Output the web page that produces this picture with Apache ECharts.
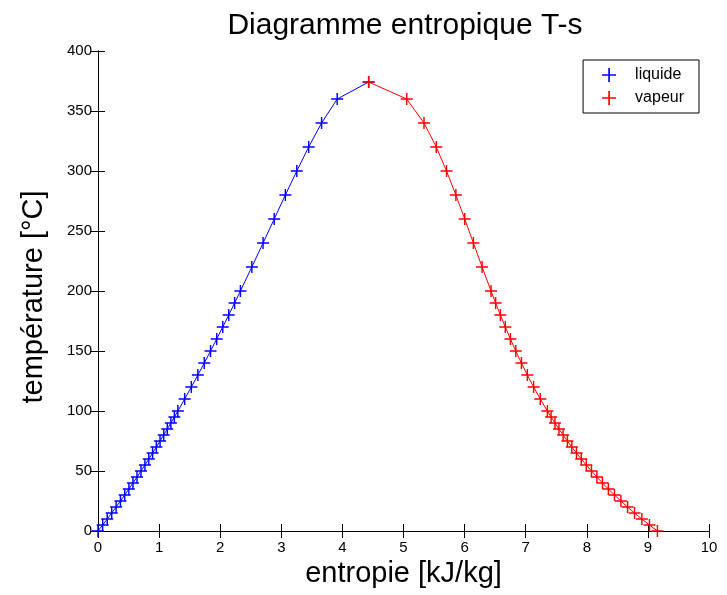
<!DOCTYPE html>
<html>
<head>
<meta charset="utf-8">
<script src="https://cdn.jsdelivr.net/npm/echarts@6/dist/echarts.min.js"></script>
<style>
  html, body { margin: 0; padding: 0; background: #fff; }
  #chart { width: 727px; height: 595px; }
</style>
</head>
<body>
<div id="chart"></div>
<script>
// températures de saturation [°C]
const temperatures = [0.01, 5, 10, 15, 20, 25, 30, 35, 40, 45, 50, 55, 60, 65, 70, 75, 80, 85, 90, 95, 100,
  110, 120, 130, 140, 150, 160, 170, 180, 190, 200, 220, 240, 260, 280, 300, 320, 340, 360, 374.14];
// entropie liquide saturé [kJ/kg]
const sLiquide = [0, 0.0763, 0.151, 0.2245, 0.2966, 0.3674, 0.4369, 0.5053, 0.5725, 0.6387, 0.7038, 0.7679,
  0.8312, 0.8935, 0.9549, 1.0155, 1.0753, 1.1343, 1.1925, 1.25, 1.3069,
  1.4185, 1.5276, 1.6344, 1.7391, 1.8418, 1.9427, 2.0419, 2.1396, 2.2359, 2.3309,
  2.5178, 2.7015, 2.8838, 3.0668, 3.2534, 3.448, 3.6594, 3.9147, 4.4298];
// entropie vapeur saturée [kJ/kg]
const sVapeur = [9.1562, 9.0257, 8.9008, 8.7814, 8.6672, 8.558, 8.4533, 8.3531, 8.257, 8.1648, 8.0763, 7.9913,
  7.9096, 7.831, 7.7553, 7.6824, 7.6122, 7.5445, 7.4791, 7.4159, 7.3549,
  7.2387, 7.1296, 7.0269, 6.9299, 6.8379, 6.7502, 6.6663, 6.5857, 6.5079, 6.4323,
  6.2861, 6.1437, 6.0019, 5.8571, 5.7045, 5.5362, 5.3357, 5.0526, 4.4298];

const plus = 'path://M4.4,0H5.6V4.4H10V5.6H5.6V10H4.4V5.6H0V4.4H4.4Z';
const font = 'Liberation Sans, Arial, sans-serif';

const myChart = echarts.init(document.getElementById('chart'));

const axisCommon = {
  axisLine: { show: true, lineStyle: { color: '#000', width: 1 } },
  axisTick: { show: true, inside: true, length: 7, lineStyle: { color: '#000' } },
  splitLine: { show: false }
};

const option = {
  animation: false,
  title: {
    text: 'Diagramme entropique T-s',
    left: 400,
    textAlign: 'center',
    top: 6,
    textStyle: { fontFamily: font, fontSize: 30, fontWeight: 'normal', color: '#000' }
  },
  legend: {
    orient: 'vertical',
    right: 28,
    top: 60,
    padding: [7, 15, 7, 19],
    itemGap: 7,
    itemWidth: 14,
    itemHeight: 14,
    borderColor: '#000',
    borderWidth: 1,
    textStyle: { fontFamily: font, fontSize: 16, color: '#000', padding: [0, 0, 0, 14] },
    data: [
      { name: 'liquide', icon: plus },
      { name: 'vapeur', icon: plus }
    ]
  },
  grid: { left: 98, right: 18, top: 51, bottom: 64, containLabel: false },
  xAxis: [
    Object.assign({}, axisCommon, {
      type: 'value', min: 0, max: 10, interval: 1,
      name: 'entropie [kJ/kg]', nameLocation: 'middle', nameGap: 28,
      nameTextStyle: { fontFamily: font, fontSize: 29, color: '#000' },
      axisLabel: { fontFamily: font, fontSize: 15, color: '#000', margin: 9 }
    }),
    Object.assign({}, axisCommon, {
      type: 'value', min: 0, max: 10, interval: 1, position: 'top',
      axisLabel: { show: false }
    })
  ],
  yAxis: [
    Object.assign({}, axisCommon, {
      type: 'value', min: 0, max: 400, interval: 50,
      name: 'température [°C]', nameLocation: 'middle', nameGap: 50,
      nameTextStyle: { fontFamily: font, fontSize: 29, color: '#000', padding: [0, 12, 0, 0] },
      axisLabel: { fontFamily: font, fontSize: 15, color: '#000', margin: 6 }
    }),
    Object.assign({}, axisCommon, {
      type: 'value', min: 0, max: 400, interval: 50, position: 'right',
      axisLabel: { show: false }
    })
  ],
  series: [
    {
      name: 'liquide',
      type: 'line',
      data: sLiquide.map((s, i) => [s, temperatures[i]]),
      symbol: plus,
      symbolSize: 12,
      showAllSymbol: true,
      itemStyle: { color: '#0000ff' },
      lineStyle: { color: '#0000ff', width: 1 }
    },
    {
      name: 'vapeur',
      type: 'line',
      data: sVapeur.map((s, i) => [s, temperatures[i]]),
      symbol: plus,
      symbolSize: 12,
      showAllSymbol: true,
      itemStyle: { color: '#ff0000' },
      lineStyle: { color: '#ff0000', width: 1 }
    }
  ]
};

myChart.setOption(option);
</script>
</body>
</html>
